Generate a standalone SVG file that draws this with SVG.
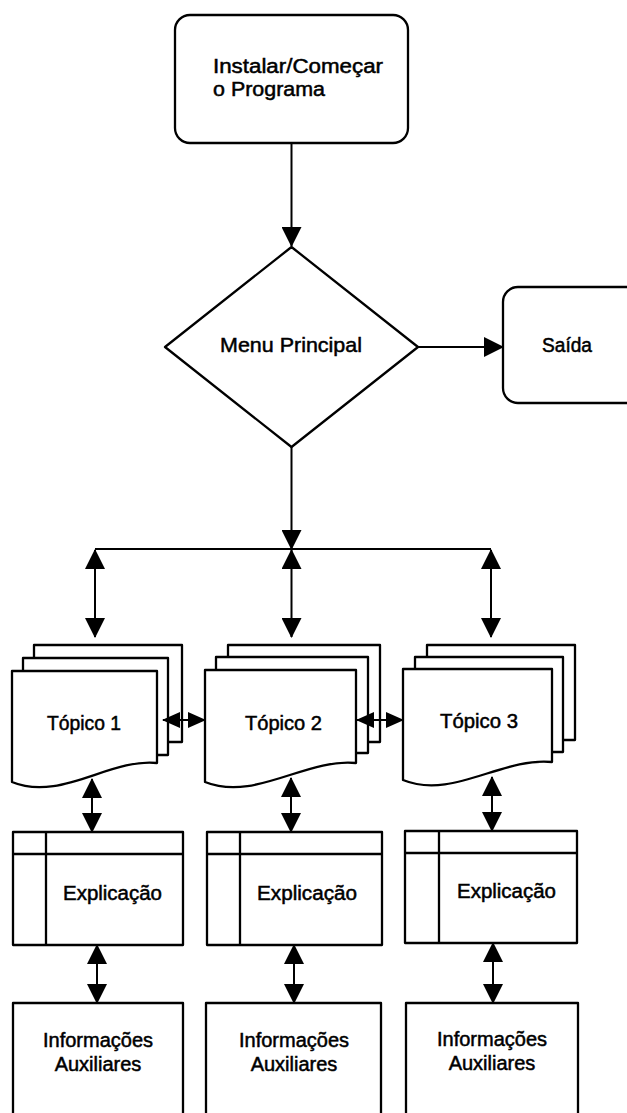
<svg xmlns="http://www.w3.org/2000/svg" width="627" height="1113" viewBox="0 0 627 1113">
  <style>
    .shape { fill: #fff; stroke: #000; stroke-width: 2.3; stroke-linejoin: round; }
    .rule { fill: none; stroke: #000; stroke-width: 2.3; }
    .link { fill: none; stroke: #000; stroke-width: 2; }
    .lbl { font-family: "Liberation Sans", Arial, sans-serif; font-size: 20px; fill: #000; stroke: #000; stroke-width: 0.5; }
    .big { font-size: 21px; }
  </style>
  <defs>
    <marker id="head" viewBox="0 0 20 20" markerUnits="userSpaceOnUse" markerWidth="20" markerHeight="20" refX="19" refY="10" orient="auto-start-reverse">
      <path d="M0,0 L20,10 L0,20 z" fill="#000"/>
    </marker>
    <marker id="headSm" viewBox="0 0 18 18" markerUnits="userSpaceOnUse" markerWidth="18" markerHeight="18" refX="17" refY="9" orient="auto-start-reverse">
      <path d="M0,1 L18,9 L0,17 z" fill="#000"/>
    </marker>
  </defs>

  <!-- connectors -->
  <g id="connectors">
    <line class="link" x1="291.5" y1="143" x2="291.5" y2="246" marker-end="url(#head)"/>
    <line class="link" x1="418" y1="347" x2="503" y2="347" marker-end="url(#head)"/>
    <line class="link" x1="291.5" y1="447" x2="291.5" y2="549" marker-end="url(#head)"/>
    <line class="link" x1="95" y1="549" x2="491" y2="549"/>
    <line class="link" x1="95" y1="550" x2="95" y2="637" marker-start="url(#head)" marker-end="url(#head)"/>
    <line class="link" x1="291.5" y1="550" x2="291.5" y2="637" marker-start="url(#head)" marker-end="url(#head)"/>
    <line class="link" x1="491" y1="550" x2="491" y2="637" marker-start="url(#head)" marker-end="url(#head)"/>
    <line class="link" x1="92" y1="779" x2="92" y2="832" marker-start="url(#head)" marker-end="url(#head)"/>
    <line class="link" x1="291" y1="778" x2="291" y2="832" marker-start="url(#head)" marker-end="url(#head)"/>
    <line class="link" x1="492" y1="777" x2="492" y2="831" marker-start="url(#head)" marker-end="url(#head)"/>
    <line class="link" x1="97" y1="945" x2="97" y2="1003" marker-start="url(#head)" marker-end="url(#head)"/>
    <line class="link" x1="294" y1="945" x2="294" y2="1003" marker-start="url(#head)" marker-end="url(#head)"/>
    <line class="link" x1="493" y1="943" x2="493" y2="1003" marker-start="url(#head)" marker-end="url(#head)"/>
  </g>

  <!-- start -->
  <g id="start">
    <rect class="shape" x="175" y="15" width="233" height="128" rx="15"/>
    <text class="lbl" x="213" y="73" textLength="170" lengthAdjust="spacingAndGlyphs">Instalar/Começar</text>
    <text class="lbl" x="213" y="96" textLength="112" lengthAdjust="spacingAndGlyphs">o Programa</text>
  </g>

  <!-- main menu decision -->
  <g id="menu">
    <polygon class="shape" points="291.5,247 418,347 291.5,447 165,347"/>
    <text class="lbl big" x="220" y="352" textLength="142" lengthAdjust="spacingAndGlyphs">Menu Principal</text>
  </g>

  <!-- exit -->
  <g id="exit">
    <rect class="shape" x="503" y="287" width="140" height="116" rx="15"/>
    <text class="lbl" x="542" y="352" textLength="50" lengthAdjust="spacingAndGlyphs">Saída</text>
  </g>

  <!-- topic 1 -->
  <g id="topic1">
    <rect class="shape" x="34" y="645" width="148" height="97"/>
    <rect class="shape" x="23" y="658" width="145" height="97"/>
    <path class="shape" d="M12,671 H157 V763 C110,758 60,802 12,782 Z"/>
    <text class="lbl" x="47" y="730" textLength="74" lengthAdjust="spacingAndGlyphs">Tópico 1</text>
  </g>

  <!-- topic 2 -->
  <g id="topic2">
    <rect class="shape" x="228" y="645" width="152" height="97"/>
    <rect class="shape" x="216" y="657" width="152" height="96"/>
    <path class="shape" d="M205,670 H356 V763 C305,758 255,802 205,782 Z"/>
    <text class="lbl" x="245" y="730" textLength="77" lengthAdjust="spacingAndGlyphs">Tópico 2</text>
  </g>

  <!-- topic 3 -->
  <g id="topic3">
    <rect class="shape" x="427" y="645" width="148" height="95"/>
    <rect class="shape" x="415" y="657" width="148" height="95"/>
    <path class="shape" d="M403,669 H552 V762 C502,757 452,800 403,780 Z"/>
    <text class="lbl" x="440" y="728" textLength="78" lengthAdjust="spacingAndGlyphs">Tópico 3</text>
  </g>

  <!-- links between topics -->
  <g id="topic-links">
    <line class="link" x1="163" y1="720" x2="205" y2="720" marker-start="url(#headSm)" marker-end="url(#headSm)"/>
    <line class="link" x1="357" y1="720" x2="403" y2="720" marker-start="url(#headSm)" marker-end="url(#headSm)"/>
  </g>

  <!-- explanation panels -->
  <g id="expl1">
    <rect class="shape" x="13" y="832" width="170" height="113"/>
    <path class="rule" d="M13,854 H183 M46,832 V945"/>
    <text class="lbl" x="63" y="900" textLength="99" lengthAdjust="spacingAndGlyphs">Explicação</text>
  </g>
  <g id="expl2">
    <rect class="shape" x="207" y="832" width="175" height="113"/>
    <path class="rule" d="M207,854 H382 M240,832 V945"/>
    <text class="lbl" x="257" y="900" textLength="100" lengthAdjust="spacingAndGlyphs">Explicação</text>
  </g>
  <g id="expl3">
    <rect class="shape" x="405" y="831" width="172" height="112"/>
    <path class="rule" d="M405,853 H577 M439,831 V943"/>
    <text class="lbl" x="457" y="898" textLength="99" lengthAdjust="spacingAndGlyphs">Explicação</text>
  </g>

  <!-- auxiliary information -->
  <g id="info1">
    <rect class="shape" x="13" y="1003" width="170" height="130"/>
    <text class="lbl" x="98" y="1047" text-anchor="middle">Informações</text>
    <text class="lbl" x="98" y="1071" text-anchor="middle">Auxiliares</text>
  </g>
  <g id="info2">
    <rect class="shape" x="206" y="1003" width="175" height="130"/>
    <text class="lbl" x="294" y="1047" text-anchor="middle">Informações</text>
    <text class="lbl" x="294" y="1071" text-anchor="middle">Auxiliares</text>
  </g>
  <g id="info3">
    <rect class="shape" x="406" y="1003" width="172" height="130"/>
    <text class="lbl" x="492" y="1046" text-anchor="middle">Informações</text>
    <text class="lbl" x="492" y="1070" text-anchor="middle">Auxiliares</text>
  </g>
</svg>
